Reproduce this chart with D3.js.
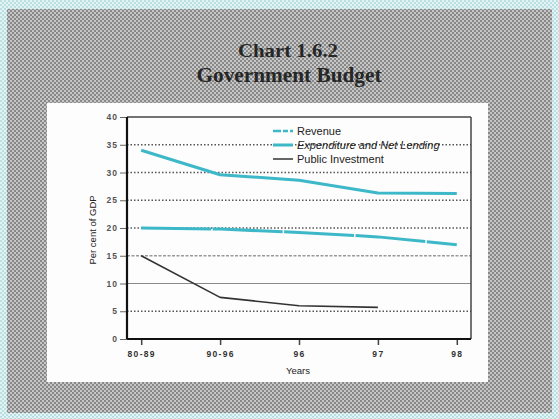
<!DOCTYPE html>
<html>
<head>
<meta charset="utf-8">
<script src="https://cdn.jsdelivr.net/npm/d3@7"></script>
<style>
  html, body { margin: 0; padding: 0; background: #dcefef; }
  svg { display: block; }
</style>
</head>
<body>
<svg id="chart" width="559" height="419"></svg>
<script>
// Government budget, per cent of GDP
const years = ["80-89", "90-96", "96", "97", "98"];
const revenue = [20.0, 19.8, 19.2, 18.4, 17.0];
const expenditure = [34.0, 29.6, 28.6, 26.3, 26.2];
const publicInvestment = [15.0, 7.5, 6.0, 5.7, null];
const yTicks = [0, 5, 10, 15, 20, 25, 30, 35, 40];
const seriesNames = ["Revenue", "Expenditure and Net Lending", "Public Investment"];

const svg = d3.select("#chart");
const W = 559, H = 419;

// textured backgrounds
const defs = svg.append("defs");
const grey = defs.append("pattern").attr("id", "grey").attr("width", 4).attr("height", 4)
  .attr("patternUnits", "userSpaceOnUse");
grey.append("rect").attr("width", 4).attr("height", 4).attr("fill", "#c6c6c6");
grey.append("rect").attr("width", 2).attr("height", 2).attr("fill", "#888");
grey.append("rect").attr("x", 2).attr("y", 2).attr("width", 2).attr("height", 2).attr("fill", "#888");

const cyan = defs.append("pattern").attr("id", "cyan").attr("width", 4).attr("height", 4)
  .attr("patternUnits", "userSpaceOnUse");
cyan.append("rect").attr("width", 4).attr("height", 4).attr("fill", "#e4f4f4");
cyan.append("rect").attr("width", 2).attr("height", 2).attr("fill", "#b9dfe2");
cyan.append("rect").attr("x", 2).attr("y", 2).attr("width", 2).attr("height", 2).attr("fill", "#b9dfe2");

svg.append("rect").attr("width", W).attr("height", H).attr("fill", "url(#cyan)");
svg.append("rect").attr("x", 7).attr("y", 9).attr("width", 545).attr("height", 404).attr("fill", "url(#grey)");

// title
const title = svg.append("g").attr("font-family", "'Liberation Serif', 'Times New Roman', serif")
  .attr("font-weight", "bold").attr("fill", "#262626").attr("text-anchor", "middle");
title.append("text").attr("x", 288).attr("y", 57).attr("font-size", 19)
  .attr("textLength", 100).attr("lengthAdjust", "spacingAndGlyphs").text("Chart 1.6.2");
title.append("text").attr("x", 289).attr("y", 82).attr("font-size", 20)
  .attr("textLength", 185).attr("lengthAdjust", "spacingAndGlyphs").text("Government Budget");

// white chart card
svg.append("rect").attr("x", 47).attr("y", 103).attr("width", 441).attr("height", 279).attr("fill", "#fdfdfd");

const plot = { left: 127, right: 471, top: 117, bottom: 339 };

const x = d3.scalePoint().domain(years).range([plot.left, plot.right]).padding(0.18);
const y = d3.scaleLinear().domain([0, 40]).range([plot.bottom, plot.top]);

// horizontal grid
const grid = svg.append("g");
grid.selectAll("line").data(yTicks.filter(v => v > 0 && v < 40)).join("line")
  .attr("x1", plot.left).attr("x2", plot.right)
  .attr("y1", d => y(d)).attr("y2", d => y(d))
  .attr("stroke", d => d === 10 ? "#8a8a8a" : d === 15 ? "#9a9a9a" : "#555")
  .attr("stroke-width", d => d === 10 ? 1.2 : 1.4)
  .attr("stroke-dasharray", d => d === 10 ? null : d === 15 ? "3,1.5" : "1.5,2");

// axes
const axisFont = "'Liberation Sans', Arial, sans-serif";
const yAxis = svg.append("g").attr("transform", `translate(${plot.left},0)`)
  .call(d3.axisLeft(y).tickValues(yTicks).tickSize(7).tickPadding(2));
yAxis.select(".domain").remove();
yAxis.selectAll(".tick line").attr("stroke", "#666").attr("stroke-width", 1);
yAxis.selectAll("text").attr("font-family", axisFont).attr("font-size", 8.5).attr("font-weight", "bold")
  .attr("letter-spacing", 1).attr("fill", "#555");

const xAxis = svg.append("g").attr("transform", `translate(0,${plot.bottom})`)
  .call(d3.axisBottom(x).tickSize(6).tickPadding(6));
xAxis.select(".domain").remove();
xAxis.selectAll(".tick line").attr("stroke", "#444").attr("stroke-width", 1.5);
xAxis.selectAll("text").attr("font-family", axisFont).attr("font-size", 8.5).attr("font-weight", "bold")
  .attr("letter-spacing", 1.3).attr("fill", "#333");

// frame
svg.append("line").attr("x1", plot.left).attr("x2", plot.right).attr("y1", plot.top).attr("y2", plot.top)
  .attr("stroke", "#444").attr("stroke-width", 1.5);
svg.append("line").attr("x1", plot.right).attr("x2", plot.right).attr("y1", plot.top).attr("y2", plot.bottom)
  .attr("stroke", "#444").attr("stroke-width", 1.5);
svg.append("line").attr("x1", plot.left).attr("x2", plot.right).attr("y1", plot.bottom).attr("y2", plot.bottom)
  .attr("stroke", "#111").attr("stroke-width", 2.2);
svg.append("line").attr("x1", plot.left).attr("x2", plot.left).attr("y1", plot.top).attr("y2", plot.bottom)
  .attr("stroke", "#111").attr("stroke-width", 2.2);

// axis titles
svg.append("text").attr("transform", `translate(96,230) rotate(-90)`).attr("text-anchor", "middle")
  .attr("font-family", axisFont).attr("font-size", 9.5).attr("fill", "#222").text("Per cent of GDP");
svg.append("text").attr("x", 298).attr("y", 374).attr("text-anchor", "middle")
  .attr("font-family", axisFont).attr("font-size", 9.5).attr("fill", "#222").text("Years");

// series lines
const line = d3.line().defined(d => d.v != null).x(d => x(d.k)).y(d => y(d.v));
const pts = arr => years.map((k, i) => ({ k, v: arr[i] }));
const teal = "#3db8c8";

svg.append("path").datum(pts(expenditure)).attr("d", line).attr("fill", "none")
  .attr("stroke", teal).attr("stroke-width", 3).attr("stroke-linejoin", "round");
svg.append("path").datum(pts(revenue)).attr("d", line).attr("fill", "none")
  .attr("stroke", teal).attr("stroke-width", 3).attr("stroke-dasharray", "70,1.5")
  .attr("stroke-linejoin", "round");
svg.append("path").datum(pts(publicInvestment)).attr("d", line).attr("fill", "none")
  .attr("stroke", "#333").attr("stroke-width", 1.6).attr("stroke-linejoin", "round");

// legend
const legend = svg.append("g").attr("font-family", axisFont).attr("font-size", 11).attr("fill", "#222");
const styles = [
  { stroke: teal, w: 2.5, dash: "8,2,5,2" },
  { stroke: teal, w: 3, dash: null },
  { stroke: "#333", w: 1.5, dash: null }
];
const rowY = [131, 145, 159];
seriesNames.forEach((name, i) => {
  legend.append("line").attr("x1", 273).attr("x2", 293).attr("y1", rowY[i]).attr("y2", rowY[i])
    .attr("stroke", styles[i].stroke).attr("stroke-width", styles[i].w)
    .attr("stroke-dasharray", styles[i].dash);
  legend.append("text").attr("x", 297).attr("y", rowY[i] + 4).text(name)
    .attr("font-style", i === 1 ? "italic" : null);
});
</script>
</body>
</html>
